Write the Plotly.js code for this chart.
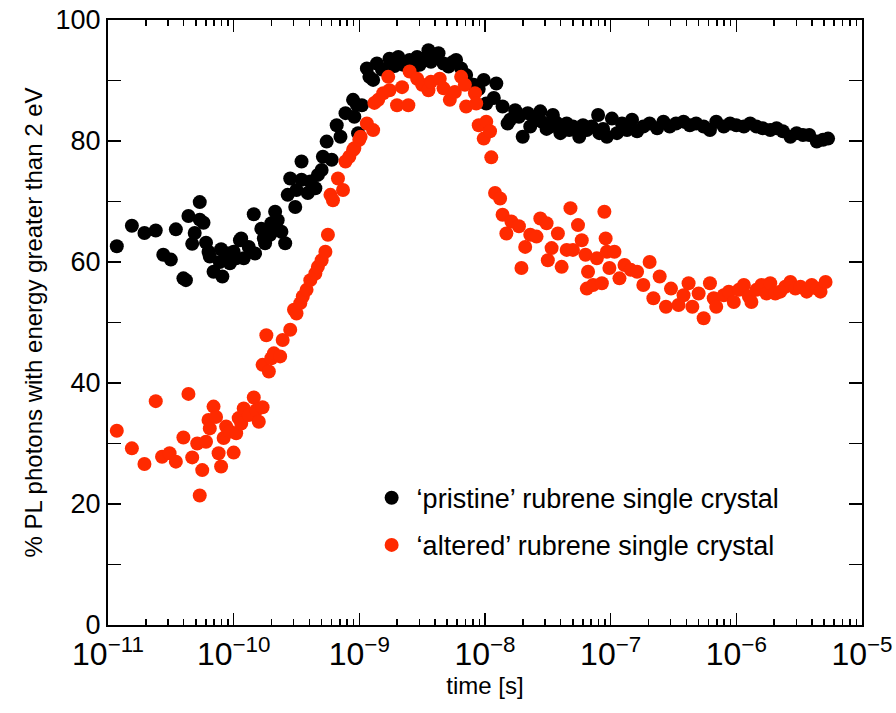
<!DOCTYPE html>
<html>
<head>
<meta charset="utf-8">
<script src="https://cdn.plot.ly/plotly-3.0.1.min.js"></script>
<style>html,body{margin:0;padding:0;background:#fff;}#chart{width:896px;height:713px;}</style>
</head>
<body>
<div id="chart"></div>
<script>
// log10(time in s) and % values
const pristineLogT = [-10.93,-10.81,-10.71,-10.62,-10.56,-10.50,-10.46,-10.40,-10.38,-10.36,-10.33,-10.31,-10.27,-10.27,-10.24,-10.22,-10.20,-10.19,-10.16,-10.11,-10.10,-10.09,-10.04,-10.03,-10.00,-9.98,-9.95,-9.94,-9.92,-9.88,-9.84,-9.83,-9.78,-9.76,-9.75,-9.71,-9.70,-9.68,-9.67,-9.65,-9.62,-9.59,-9.57,-9.55,-9.51,-9.50,-9.46,-9.46,-9.41,-9.39,-9.35,-9.33,-9.30,-9.29,-9.26,-9.22,-9.18,-9.15,-9.11,-9.05,-9.04,-9.02,-9.01,-8.98,-8.94,-8.92,-8.89,-8.86,-8.82,-8.78,-8.76,-8.72,-8.69,-8.65,-8.60,-8.57,-8.54,-8.52,-8.48,-8.45,-8.43,-8.40,-8.37,-8.33,-8.29,-8.26,-8.23,-8.19,-8.15,-8.09,-8.05,-8.01,-7.99,-7.93,-7.91,-7.86,-7.82,-7.80,-7.76,-7.73,-7.70,-7.66,-7.64,-7.60,-7.56,-7.55,-7.51,-7.48,-7.46,-7.43,-7.40,-7.35,-7.33,-7.30,-7.25,-7.22,-7.19,-7.15,-7.10,-7.09,-7.06,-7.03,-6.99,-6.95,-6.91,-6.87,-6.83,-6.79,-6.74,-6.69,-6.63,-6.58,-6.53,-6.48,-6.42,-6.37,-6.32,-6.26,-6.21,-6.16,-6.10,-6.05,-6.00,-5.94,-5.89,-5.84,-5.79,-5.73,-5.68,-5.63,-5.57,-5.52,-5.47,-5.42,-5.36,-5.31,-5.27];
const pristineVal = [62.6,66.0,64.8,65.2,61.2,60.4,65.4,57.3,57.0,67.6,63.0,64.8,69.9,67.0,66.5,63.2,61.7,60.9,58.4,60.0,62.1,57.6,61.4,59.8,61.7,60.6,63.6,63.9,60.6,62.5,67.9,61.4,65.5,63.9,63.1,64.5,66.4,65.3,68.3,66.9,65.0,63.1,71.1,73.8,69.1,71.9,76.6,73.6,71.4,73.3,72.2,74.4,75.2,77.4,79.9,76.9,82.6,80.7,84.6,86.8,84.0,86.0,81.3,85.9,92.0,90.6,90.1,92.8,91.8,92.0,93.6,92.4,93.9,92.6,93.4,92.2,93.9,92.6,93.6,95.0,93.1,93.8,94.5,92.8,92.3,93.0,93.4,92.0,90.9,89.3,88.6,90.1,86.2,87.1,89.5,85.7,82.9,83.5,85.1,84.0,80.7,84.6,82.4,83.6,84.9,83.2,82.0,82.4,84.3,83.0,81.3,82.9,81.8,82.4,80.7,82.6,81.8,82.4,84.3,81.3,82.0,80.7,83.7,81.3,82.9,81.8,83.5,81.6,82.4,82.9,82.1,83.2,82.4,82.9,83.2,82.6,82.9,82.4,81.8,83.2,82.4,82.9,82.6,82.4,82.9,82.4,82.1,81.8,82.1,81.6,80.7,81.3,81.0,81.0,79.9,80.2,80.4];

const alteredLogT = [-10.93,-10.81,-10.71,-10.62,-10.57,-10.51,-10.46,-10.40,-10.36,-10.33,-10.29,-10.27,-10.25,-10.22,-10.20,-10.19,-10.16,-10.14,-10.12,-10.10,-10.08,-10.06,-10.03,-10.00,-9.98,-9.96,-9.94,-9.92,-9.88,-9.84,-9.82,-9.80,-9.77,-9.77,-9.74,-9.72,-9.70,-9.68,-9.63,-9.61,-9.55,-9.52,-9.50,-9.47,-9.45,-9.42,-9.39,-9.35,-9.33,-9.30,-9.27,-9.25,-9.23,-9.21,-9.17,-9.13,-9.11,-9.08,-9.05,-9.04,-9.00,-8.99,-8.94,-8.89,-8.88,-8.85,-8.81,-8.77,-8.76,-8.70,-8.66,-8.61,-8.60,-8.54,-8.50,-8.45,-8.43,-8.36,-8.33,-8.28,-8.24,-8.19,-8.16,-8.15,-8.08,-8.07,-8.05,-8.01,-7.99,-7.96,-7.95,-7.92,-7.88,-7.86,-7.83,-7.79,-7.73,-7.71,-7.68,-7.64,-7.59,-7.56,-7.51,-7.50,-7.47,-7.42,-7.39,-7.35,-7.32,-7.30,-7.26,-7.23,-7.20,-7.19,-7.18,-7.14,-7.11,-7.07,-7.05,-7.04,-7.03,-7.01,-6.97,-6.93,-6.89,-6.84,-6.79,-6.74,-6.69,-6.66,-6.61,-6.56,-6.52,-6.46,-6.42,-6.38,-6.35,-6.30,-6.26,-6.21,-6.18,-6.16,-6.10,-6.06,-6.02,-5.98,-5.94,-5.90,-5.88,-5.84,-5.80,-5.76,-5.73,-5.69,-5.65,-5.61,-5.57,-5.53,-5.49,-5.44,-5.40,-5.36,-5.33,-5.29];
const alteredVal = [32.1,29.2,26.6,37.0,27.8,28.4,27.0,31.0,38.2,27.7,30.0,21.4,25.6,30.3,33.9,32.5,36.1,34.4,28.4,26.2,30.9,32.8,32.0,28.5,31.7,34.2,33.3,35.8,34.7,37.6,35.5,33.6,36.0,43.0,47.9,41.9,44.1,44.9,44.4,47.1,48.8,52.1,51.5,53.2,54.3,55.4,57.0,58.1,59.2,60.3,61.7,64.5,71.1,70.2,73.8,71.9,76.6,77.4,78.5,78.8,80.2,80.7,82.9,81.8,86.3,86.8,87.9,90.6,88.4,85.9,88.9,85.9,91.5,90.3,89.3,88.4,89.8,90.3,88.7,86.8,88.1,90.6,89.3,85.7,87.9,86.2,82.6,80.4,83.2,81.6,77.3,71.4,70.5,67.8,64.7,66.7,65.9,59.0,62.5,64.5,64.2,67.2,66.4,60.3,62.3,64.7,59.2,62.0,68.9,62.0,66.1,63.6,61.2,55.6,58.4,56.2,60.6,56.5,68.3,63.9,61.7,59.0,61.7,57.3,59.5,58.7,58.4,56.2,60.0,54.0,57.6,52.6,55.6,52.9,54.5,56.5,52.6,54.8,50.7,56.5,54.0,52.6,54.5,55.1,53.4,55.4,56.2,54.3,53.4,55.4,56.2,54.8,56.5,54.8,55.1,55.9,56.7,55.6,55.9,55.1,56.2,55.6,55.1,56.7];

const seriesNames = ['\u2018pristine\u2019 rubrene single crystal', '\u2018altered\u2019 rubrene single crystal'];
const seriesColors = ['#000000', '#ff2a00'];
const xTitle = 'time [s]';
const yTitle = '% PL photons with energy greater than 2 eV';
const majorExponents = [-11, -10, -9, -8, -7, -6, -5];
const majorTickText = ['10<sup>\u221211</sup>', '10<sup>\u221210</sup>', '10<sup>\u22129</sup>', '10<sup>\u22128</sup>',
                       '10<sup>\u22127</sup>', '10<sup>\u22126</sup>', '10<sup>\u22125</sup>'];
const minorMultipliers = [2, 3, 4, 5, 6, 7, 8, 9];

const toSeconds = a => a.map(v => Math.pow(10, v));
const majorTickVals = toSeconds(majorExponents);
const minorTickVals = [];
majorExponents.slice(0, -1).forEach(d => minorMultipliers.forEach(m => minorTickVals.push(m * Math.pow(10, d))));

const traces = [
  {x: toSeconds(pristineLogT), y: pristineVal, name: seriesNames[0], legendgroup: 'a',
   type: 'scatter', mode: 'markers', marker: {color: seriesColors[0], size: 14}},
  {x: toSeconds(alteredLogT), y: alteredVal, name: seriesNames[1], legendgroup: 'b',
   type: 'scatter', mode: 'markers', marker: {color: seriesColors[1], size: 14}}
];

const font = 'Liberation Sans, Arial, Helvetica, sans-serif';
const layout = {
  width: 896, height: 713,
  margin: {l: 108, r: 34, t: 20, b: 88},
  paper_bgcolor: '#fff', plot_bgcolor: '#fff',
  font: {family: font, color: '#000'},
  showlegend: true,
  legend: {x: 0.343, y: 0.250, xanchor: 'left', yanchor: 'top', bgcolor: 'rgba(0,0,0,0)',
           font: {size: 27, family: font}, traceorder: 'grouped', tracegroupgap: 9, itemwidth: 40},
  xaxis: {
    type: 'log', range: [-11, -5], tickmode: 'array', tickvals: majorTickVals, ticktext: majorTickText,
    showline: true, linecolor: '#000', linewidth: 2, mirror: 'allticks',
    ticks: 'inside', ticklen: 12, tickwidth: 1.5, tickcolor: '#000',
    minor: {tickmode: 'array', tickvals: minorTickVals, ticks: 'inside', ticklen: 6,
            tickwidth: 1.5, tickcolor: '#000', showgrid: false},
    showgrid: false, zeroline: false,
    tickfont: {size: 32, family: font},
    title: {text: xTitle, font: {size: 24, family: font}, standoff: 4}
  },
  yaxis: {
    range: [0, 100], dtick: 20,
    showline: true, linecolor: '#000', linewidth: 2, mirror: 'allticks',
    ticks: 'inside', ticklen: 13, tickwidth: 1.5, tickcolor: '#000',
    minor: {ticks: 'inside', ticklen: 13, tickwidth: 1.5, tickcolor: '#000', dtick: 10, showgrid: false},
    showgrid: false, zeroline: false,
    tickfont: {size: 27, family: font},
    title: {text: yTitle, font: {size: 24, family: font}, standoff: 6}
  }
};

Plotly.newPlot('chart', traces, layout, {displayModeBar: false, staticPlot: true});
</script>
</body>
</html>
